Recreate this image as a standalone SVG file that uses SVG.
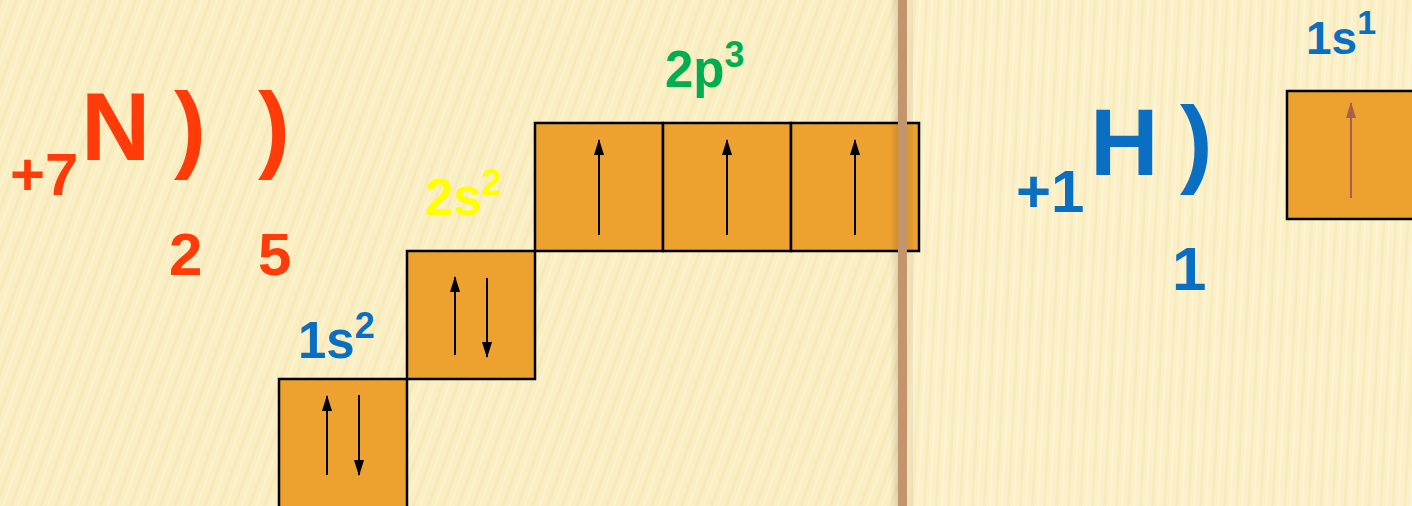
<svg xmlns="http://www.w3.org/2000/svg" width="1412" height="506" viewBox="0 0 1412 506">
<defs>
<style>
.t{font-family:"Liberation Sans",Arial,sans-serif;font-weight:bold}
.red{fill:#FF3B0A}
.blue{fill:#0A6FC2}
.box{fill:#EDA22F;stroke:#000;stroke-width:2.5}
.e{stroke:#000;stroke-width:2;fill:none}
.eh{stroke:#A5614D;stroke-width:2;fill:none}
</style>
<pattern id="streakL" width="14" height="40" patternUnits="userSpaceOnUse" patternTransform="rotate(20)">
<rect width="14" height="40" fill="#FAEEC3"/>
<rect x="0" width="3" height="40" fill="#F6E6B6" opacity="0.6"/>
<rect x="7" width="2" height="40" fill="#FDF5D6" opacity="0.6"/>
</pattern>
<pattern id="streakR" width="12" height="40" patternUnits="userSpaceOnUse" patternTransform="rotate(3)">
<rect width="12" height="40" fill="#FBF0C8"/>
<rect x="0" width="3" height="40" fill="#F6E7B8" opacity="0.6"/>
<rect x="6" width="2" height="40" fill="#FDF6DA" opacity="0.6"/>
</pattern>
<linearGradient id="barShade" x1="0" x2="1" y1="0" y2="0">
<stop offset="0" stop-color="#000" stop-opacity="0"/>
<stop offset="1" stop-color="#000" stop-opacity="0.12"/>
</linearGradient>
<marker id="ah" viewBox="0 0 16 10" refX="15" refY="5" markerWidth="16" markerHeight="10" markerUnits="userSpaceOnUse" orient="auto">
<path d="M0,0 L16,5 L0,10 Z" fill="#000"/>
</marker>
<marker id="ahb" viewBox="0 0 16 10" refX="15" refY="5" markerWidth="16" markerHeight="10" markerUnits="userSpaceOnUse" orient="auto">
<path d="M0,0 L16,5 L0,10 Z" fill="#A5614D"/>
</marker>
</defs>

<rect width="900" height="506" fill="url(#streakL)"/>
<rect x="900" width="512" height="506" fill="url(#streakR)"/>

<g id="nitrogen">
<text class="t red" x="10" y="195" font-size="60">+7</text>
<text class="t red" x="81" y="160" font-size="96">N</text>
<text class="t red" x="174" y="160" font-size="96">)</text>
<text class="t red" x="258" y="160" font-size="96">)</text>
<text class="t red" x="169" y="275" font-size="60">2</text>
<text class="t red" x="258" y="275" font-size="60">5</text>
</g>

<g id="orb-1s">
<rect class="box" x="279" y="379" width="128" height="140"/>
<text class="t blue" x="298" y="358" font-size="51">1s<tspan font-size="36" dy="-20">2</tspan></text>
</g>

<g id="orb-2s">
<rect class="box" x="407" y="251" width="128" height="128"/>
<text class="t" fill="#FFFF00" x="425" y="215" font-size="51">2s<tspan font-size="36" dy="-20">2</tspan></text>
</g>

<g id="orb-2p">
<rect class="box" x="535" y="123" width="128" height="128"/>
<rect class="box" x="663" y="123" width="128" height="128"/>
<rect class="box" x="791" y="123" width="128" height="128"/>
<text class="t" fill="#00AE4F" x="665" y="87" font-size="51">2p<tspan font-size="36" dy="-20">3</tspan></text>
</g>

<g id="divider">
<rect x="890" y="0" width="8" height="506" fill="url(#barShade)"/>
<rect x="898" y="0" width="9" height="506" fill="#C4956A"/>
<rect x="907" y="0" width="6" height="506" fill="#000" opacity="0.05"/>
</g>

<g id="hydrogen">
<text class="t blue" x="1016" y="212" font-size="60">+1</text>
<text class="t blue" x="1090" y="175" font-size="95">H</text>
<text class="t blue" x="1180" y="175" font-size="98">)</text>
<text class="t blue" x="1172" y="290" font-size="62">1</text>
</g>

<g id="orb-H1s">
<rect class="box" x="1287" y="91" width="140" height="128"/>
<text class="t blue" x="1306" y="54" font-size="46">1s<tspan font-size="34" dy="-20">1</tspan></text>
</g>

<g id="electrons">
<line class="e" x1="327" y1="475" x2="327" y2="396" marker-end="url(#ah)"/>
<line class="e" x1="359" y1="395" x2="359" y2="475" marker-end="url(#ah)"/>
<line class="e" x1="455" y1="355" x2="455" y2="277" marker-end="url(#ah)"/>
<line class="e" x1="487" y1="278" x2="487" y2="357" marker-end="url(#ah)"/>
<line class="e" x1="599" y1="235" x2="599" y2="140" marker-end="url(#ah)"/>
<line class="e" x1="727" y1="235" x2="727" y2="140" marker-end="url(#ah)"/>
<line class="e" x1="855" y1="235" x2="855" y2="140" marker-end="url(#ah)"/>
<line class="eh" x1="1351" y1="198" x2="1351" y2="103" marker-end="url(#ahb)"/>
</g>
</svg>
